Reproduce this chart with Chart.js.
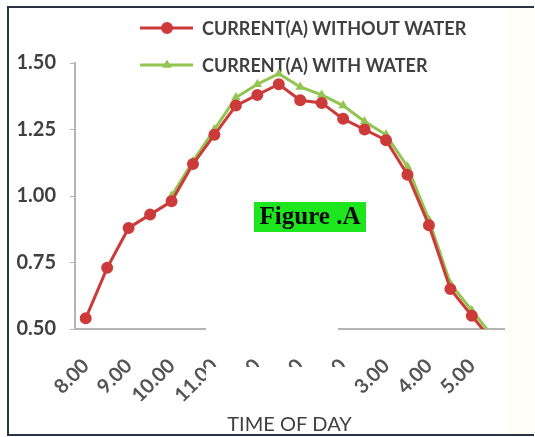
<!DOCTYPE html>
<html>
<head>
<meta charset="utf-8">
<script src="https://cdn.jsdelivr.net/npm/chart.js@4"></script>
<style>
  html, body { margin: 0; padding: 0; background: #ffffff; }
  #wrap { width: 535px; height: 437px; }
</style>
</head>
<body>
<div id="wrap"><canvas id="chart" width="535" height="437"></canvas></div>
<script>
// Half-hourly readings through the day
const timeLabels = ['8.00','8.30','9.00','9.30','10.00','10.30','11.00','11.30','12.00','12.30',
                    '1.00','1.30','2.00','2.30','3.00','3.30','4.00','4.30','5.00','5.30'];
const currentWithoutWater = [0.54,0.73,0.88,0.93,0.98,1.12,1.23,1.34,1.38,1.42,
                             1.36,1.35,1.29,1.25,1.21,1.08,0.89,0.65,0.55,0.45];
const currentWithWater = [null,null,null,null,1.00,1.13,1.25,1.37,1.42,1.46,
                          1.41,1.38,1.34,1.28,1.23,1.11,0.91,0.67,0.57,0.47];
const yTickValues = [0.50, 0.75, 1.00, 1.25, 1.50];

const RED = '#cc3a3a';
const GREEN = '#93c44f';
const TEXT = '#404040';

// page furniture: background, frame, legend, figure tag, blank panels
const decor = {
  id: 'decor',
  beforeDraw(chart) {
    const { ctx, width, height } = chart;
    ctx.save();
    ctx.fillStyle = '#ffffff';
    ctx.fillRect(0, 0, width, height);
    ctx.fillStyle = '#fffef7';
    ctx.fillRect(506, 8, width - 506, height - 8);
    ctx.restore();
  },
  beforeDatasetsDraw(chart) {
    const { ctx } = chart;
    ctx.save();
    chart.data.datasets.forEach((ds, i) => {
      const y = 28 + i * 37;
      ctx.strokeStyle = ds.borderColor;
      ctx.lineWidth = ds.borderWidth;
      ctx.beginPath();
      ctx.moveTo(140, y);
      ctx.lineTo(193, y);
      ctx.stroke();
      ctx.fillStyle = ds.pointBackgroundColor;
      ctx.strokeStyle = ds.pointBorderColor;
      Chart.helpers.drawPoint(ctx, {
        pointStyle: ds.pointStyle, radius: ds.pointRadius, rotation: 0, borderWidth: 1
      }, 167, y);
      ctx.fillStyle = TEXT;
      ctx.font = 'bold 18px Lato';
      ctx.textAlign = 'left';
      ctx.textBaseline = 'middle';
      ctx.fillText(ds.label, 202, y + 1);
    });
    ctx.restore();
  },
  afterDraw(chart) {
    const { ctx } = chart;
    ctx.save();
    // blank panels over the midday part of the axis
    ctx.fillStyle = '#ffffff';
    ctx.fillRect(206, 316, 132, 23);
    ctx.fillRect(206, 367, 143, 47);
    // figure tag
    ctx.fillStyle = '#1ee61e';
    ctx.fillRect(254, 202, 112, 30);
    ctx.fillStyle = '#0a0a0a';
    ctx.font = 'bold 25px "Liberation Serif"';
    ctx.textAlign = 'center';
    ctx.textBaseline = 'middle';
    ctx.fillText('Figure .A', 310, 218);
    // frame
    ctx.strokeStyle = '#2b3445';
    ctx.lineWidth = 2;
    ctx.beginPath();
    ctx.moveTo(534, 7);
    ctx.lineTo(8, 7);
    ctx.lineTo(8, 435);
    ctx.lineTo(534, 435);
    ctx.stroke();
    ctx.restore();
  }
};

new Chart(document.getElementById('chart'), {
  type: 'line',
  data: {
    labels: timeLabels,
    datasets: [
      {
        label: 'CURRENT(A) WITHOUT WATER',
        data: currentWithoutWater,
        borderColor: RED,
        backgroundColor: RED,
        borderWidth: 3,
        pointStyle: 'circle',
        pointRadius: 4.5,
        pointBackgroundColor: RED,
        pointBorderColor: RED,
        tension: 0
      },
      {
        label: 'CURRENT(A) WITH WATER',
        data: currentWithWater,
        borderColor: GREEN,
        backgroundColor: GREEN,
        borderWidth: 3,
        pointStyle: 'triangle',
        pointRadius: 2.5,
        pointBackgroundColor: GREEN,
        pointBorderColor: GREEN,
        tension: 0
      }
    ]
  },
  options: {
    responsive: false,
    animation: false,
    layout: { padding: { top: 63, right: 31, left: 0, bottom: 0 } },
    plugins: {
      legend: { display: false },
      title: { display: false },
      tooltip: { enabled: false }
    },
    scales: {
      x: {
        type: 'category',
        offset: true,
        grid: { display: false },
        border: { display: true, color: '#b4b4b4', width: 2 },
        ticks: {
          autoSkip: false,
          minRotation: 45,
          maxRotation: 45,
          padding: 17,
          color: '#555555',
          font: { family: 'Lato', size: 20, weight: 'bold' },
          callback: (v, i) => timeLabels[i].endsWith('.00') ? timeLabels[i] : ''
        },
        title: {
          display: true,
          text: 'TIME OF DAY',
          color: TEXT,
          font: { family: 'Lato', size: 20 },
          padding: { top: 0, bottom: 0 }
        },
        afterFit: s => { s.height = 108; }
      },
      y: {
        min: 0.5,
        max: 1.5,
        afterBuildTicks: s => { s.ticks = yTickValues.map(v => ({ value: v })); },
        grid: { drawOnChartArea: false, drawTicks: true, tickLength: 5, color: '#b4b4b4' },
        border: { display: true, color: '#b4b4b4', width: 2 },
        ticks: {
          padding: 14,
          color: TEXT,
          font: { family: 'Lato', size: 20, weight: 'bold' },
          callback: v => Number(v).toFixed(2)
        },
        afterFit: s => { s.width = 75; }
      }
    }
  },
  plugins: [decor]
});
</script>
</body>
</html>
